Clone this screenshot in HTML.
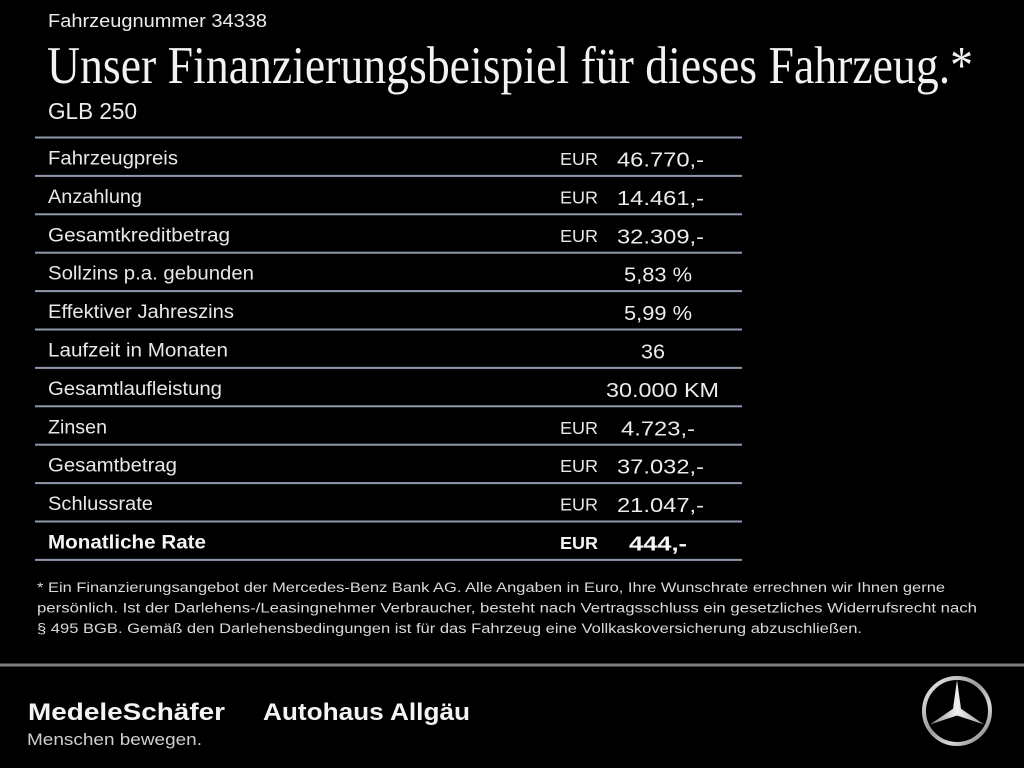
<!DOCTYPE html>
<html>
<head>
<meta charset="utf-8">
<style>
html,body{margin:0;padding:0;background:#000;}
body{width:1024px;height:768px;overflow:hidden;}
svg{display:block;}
</style>
</head>
<body>
<svg width="1024" height="768" viewBox="0 0 1024 768" xmlns="http://www.w3.org/2000/svg">
<defs>
<linearGradient id="silver" x1="0" y1="0" x2="1" y2="1">
<stop offset="0" stop-color="#f2f2f2"/>
<stop offset="0.45" stop-color="#9a9a9a"/>
<stop offset="0.7" stop-color="#d8d8d8"/>
<stop offset="1" stop-color="#6a6a6a"/>
</linearGradient>
<linearGradient id="starg" x1="0" y1="0" x2="1" y2="0">
<stop offset="0" stop-color="#8a8a8a"/>
<stop offset="0.5" stop-color="#f0f0f0"/>
<stop offset="1" stop-color="#9a9a9a"/>
</linearGradient>
</defs>
<rect width="1024" height="768" fill="#000"/>

<g font-family="Liberation Sans, Arial, sans-serif" fill="#ececec">
<text x="48" y="27" font-size="18.5" textLength="219" lengthAdjust="spacingAndGlyphs">Fahrzeugnummer 34338</text>
<text x="48" y="119" font-size="23" textLength="89" lengthAdjust="spacingAndGlyphs">GLB 250</text>
</g>
<text x="47" y="83" font-family="Liberation Serif, serif" font-size="53" fill="#f2f2f2" textLength="926" lengthAdjust="spacingAndGlyphs">Unser Finanzierungsbeispiel für dieses Fahrzeug.*</text>

<!-- table lines -->
<g fill="#8e9aab">
<rect x="35" y="136.5" width="707" height="2"/>
<rect x="35" y="174.9" width="707" height="2"/>
<rect x="35" y="213.3" width="707" height="2"/>
<rect x="35" y="251.7" width="707" height="2"/>
<rect x="35" y="290.1" width="707" height="2"/>
<rect x="35" y="328.5" width="707" height="2"/>
<rect x="35" y="366.9" width="707" height="2"/>
<rect x="35" y="405.3" width="707" height="2"/>
<rect x="35" y="443.7" width="707" height="2"/>
<rect x="35" y="482.1" width="707" height="2"/>
<rect x="35" y="520.5" width="707" height="2"/>
<rect x="35" y="558.9" width="707" height="2"/>
</g>

<g font-family="Liberation Sans, Arial, sans-serif" fill="#e8e8e8" font-size="19">
<text x="48" y="164.5" textLength="130" lengthAdjust="spacingAndGlyphs">Fahrzeugpreis</text>
<text x="48" y="202.9" textLength="94" lengthAdjust="spacingAndGlyphs">Anzahlung</text>
<text x="48" y="241.3" textLength="182" lengthAdjust="spacingAndGlyphs">Gesamtkreditbetrag</text>
<text x="48" y="279.7" textLength="206" lengthAdjust="spacingAndGlyphs">Sollzins p.a. gebunden</text>
<text x="48" y="318.1" textLength="186" lengthAdjust="spacingAndGlyphs">Effektiver Jahreszins</text>
<text x="48" y="356.5" textLength="180" lengthAdjust="spacingAndGlyphs">Laufzeit in Monaten</text>
<text x="48" y="394.9" textLength="174" lengthAdjust="spacingAndGlyphs">Gesamtlaufleistung</text>
<text x="48" y="433.3" textLength="59" lengthAdjust="spacingAndGlyphs">Zinsen</text>
<text x="48" y="471.7" textLength="129" lengthAdjust="spacingAndGlyphs">Gesamtbetrag</text>
<text x="48" y="510.1" textLength="105" lengthAdjust="spacingAndGlyphs">Schlussrate</text>
<text x="48" y="548.5" font-weight="bold" fill="#f4f4f4" textLength="158" lengthAdjust="spacingAndGlyphs">Monatliche Rate</text>
</g>

<g font-family="Liberation Sans, Arial, sans-serif" fill="#e8e8e8" font-size="17.5">
<text x="560" y="165" textLength="38" lengthAdjust="spacingAndGlyphs">EUR</text>
<text x="560" y="203.4" textLength="38" lengthAdjust="spacingAndGlyphs">EUR</text>
<text x="560" y="241.8" textLength="38" lengthAdjust="spacingAndGlyphs">EUR</text>
<text x="560" y="433.8" textLength="38" lengthAdjust="spacingAndGlyphs">EUR</text>
<text x="560" y="472.2" textLength="38" lengthAdjust="spacingAndGlyphs">EUR</text>
<text x="560" y="510.6" textLength="38" lengthAdjust="spacingAndGlyphs">EUR</text>
<text x="560" y="549" font-weight="bold" fill="#f4f4f4" textLength="38" lengthAdjust="spacingAndGlyphs">EUR</text>
</g>

<g font-family="Liberation Sans, Arial, sans-serif" fill="#ececec" font-size="20.5">
<text x="617" y="166.5" textLength="87" lengthAdjust="spacingAndGlyphs">46.770,-</text>
<text x="617" y="204.9" textLength="87" lengthAdjust="spacingAndGlyphs">14.461,-</text>
<text x="617" y="243.3" textLength="87" lengthAdjust="spacingAndGlyphs">32.309,-</text>
<text x="624" y="281.7" textLength="68" lengthAdjust="spacingAndGlyphs">5,83 %</text>
<text x="624" y="320.1" textLength="68" lengthAdjust="spacingAndGlyphs">5,99 %</text>
<text x="641" y="358.5" textLength="24" lengthAdjust="spacingAndGlyphs">36</text>
<text x="606" y="396.9" textLength="113" lengthAdjust="spacingAndGlyphs">30.000 KM</text>
<text x="621" y="435.3" textLength="74" lengthAdjust="spacingAndGlyphs">4.723,-</text>
<text x="617" y="473.7" textLength="87" lengthAdjust="spacingAndGlyphs">37.032,-</text>
<text x="617" y="512.1" textLength="87" lengthAdjust="spacingAndGlyphs">21.047,-</text>
<text x="629" y="550.5" font-weight="bold" fill="#f6f6f6" textLength="58" lengthAdjust="spacingAndGlyphs">444,-</text>
</g>

<g font-family="Liberation Sans, Arial, sans-serif" fill="#dadada" font-size="13.5">
<text x="37" y="592" textLength="908" lengthAdjust="spacingAndGlyphs">* Ein Finanzierungsangebot der Mercedes-Benz Bank AG. Alle Angaben in Euro, Ihre Wunschrate errechnen wir Ihnen gerne</text>
<text x="37" y="612.5" textLength="940" lengthAdjust="spacingAndGlyphs">persönlich. Ist der Darlehens-/Leasingnehmer Verbraucher, besteht nach Vertragsschluss ein gesetzliches Widerrufsrecht nach</text>
<text x="37" y="633" textLength="825" lengthAdjust="spacingAndGlyphs">§ 495 BGB. Gemäß den Darlehensbedingungen ist für das Fahrzeug eine Vollkaskoversicherung abzuschließen.</text>
</g>

<rect x="0" y="663.5" width="1024" height="3" fill="#7e7e7e"/>

<g font-family="Liberation Sans, Arial, sans-serif" fill="#f4f4f4" font-weight="bold" font-size="24">
<text x="28" y="720" textLength="197" lengthAdjust="spacingAndGlyphs">MedeleSchäfer</text>
<text x="263" y="720" textLength="207" lengthAdjust="spacingAndGlyphs">Autohaus Allgäu</text>
</g>
<text x="27" y="745" font-family="Liberation Sans, Arial, sans-serif" font-size="17" fill="#cfcfcf" textLength="175" lengthAdjust="spacingAndGlyphs">Menschen bewegen.</text>

<!-- Mercedes star -->
<circle cx="957" cy="711" r="33" fill="none" stroke="url(#silver)" stroke-width="4"/>
<polygon points="957,680 961,708.7 984,724.5 957,715.5 930,724.5 953,708.7" fill="url(#starg)"/>
</svg>
</body>
</html>
